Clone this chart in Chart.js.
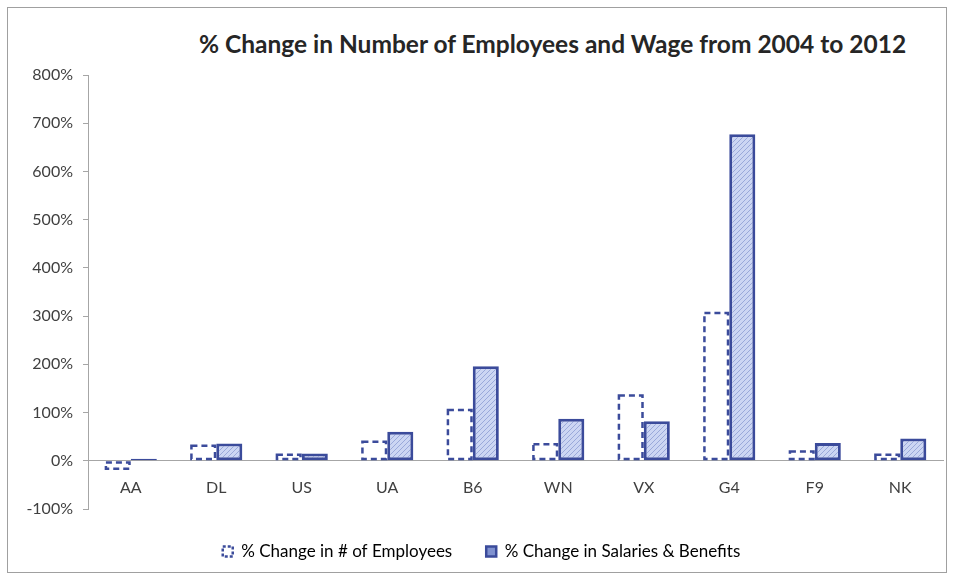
<!DOCTYPE html>
<html>
<head>
<meta charset="utf-8">
<script src="https://cdn.jsdelivr.net/npm/chart.js@4/dist/chart.umd.min.js"></script>
<style>
  body { margin: 0; background: #fff; }
  #wrap { position: relative; width: 953px; height: 577px; }
  #frame { position: absolute; left: 7px; top: 7px; width: 940px; height: 566px; border: 1px solid #a0a0a0; box-sizing: border-box; }
  #title { position: absolute; left: 170px; width: 765px; top: 29px; text-align: center;
           font: bold 24.5px Lato, sans-serif; color: #262626; }
  canvas { position: absolute; left: 0; top: 0; }
</style>
</head>
<body>
<div id="wrap">
  <div id="frame"></div>
  <div id="title">% Change in Number of Employees and Wage from 2004 to 2012</div>
  <canvas id="chart" width="953" height="577"></canvas>
</div>
<script>
const carriers = ['AA', 'DL', 'US', 'UA', 'B6', 'WN', 'VX', 'G4', 'F9', 'NK'];
const employeesChange = [-19, 34, 15, 42, 108, 37, 138, 309, 22, 15];
const salariesChange = [4, 36, 15, 60, 196, 87, 82, 677, 37, 46];
const yTicks = [-100, 0, 100, 200, 300, 400, 500, 600, 700, 800];

const navy = '#3b4b9b';
const textGray = '#404040';

// hatched light blue fill
function makeHatch() {
  const c = document.createElement('canvas');
  c.width = 5; c.height = 5;
  const g = c.getContext('2d');
  g.fillStyle = '#ccd6f3';
  g.fillRect(0, 0, 5, 5);
  g.strokeStyle = '#9aa9da';
  g.lineWidth = 1;
  g.beginPath();
  g.moveTo(0, 5); g.lineTo(5, 0);
  g.moveTo(-1, 1); g.lineTo(1, -1);
  g.moveTo(4, 6); g.lineTo(6, 4);
  g.stroke();
  return g.createPattern(c, 'repeat');
}

// bars of the first series only get a dashed outline, which BarElement can't do
const dashedOutline = {
  id: 'dashedOutline',
  afterDatasetsDraw(chart) {
    const ctx = chart.ctx;
    const meta = chart.getDatasetMeta(0);
    ctx.save();
    ctx.setLineDash([6, 4]);
    ctx.lineWidth = 2.5;
    ctx.strokeStyle = navy;
    meta.data.forEach(bar => {
      const p = bar.getProps(['x', 'y', 'base', 'width'], true);
      const top = Math.min(p.y, p.base);
      const h = Math.abs(p.base - p.y);
      ctx.strokeRect(p.x - p.width / 2 + 1.25, top + 1.25, p.width - 2.5, h - 2.5);
    });
    ctx.restore();
  }
};

const ctx = document.getElementById('chart').getContext('2d');

const chart = new Chart(ctx, {
  type: 'bar',
  data: {
    labels: carriers,
    datasets: [{
      label: '% Change in # of Employees',
      data: employeesChange,
      backgroundColor: 'rgba(0,0,0,0)',
      borderWidth: 0,
    }, {
      label: '% Change in Salaries & Benefits',
      data: salariesChange,
      backgroundColor: makeHatch(),
      borderColor: navy,
      borderWidth: 3,
      borderSkipped: false,
    }],
  },
  options: {
    responsive: false,
    animation: false,
    categoryPercentage: 0.61,
    barPercentage: 1.0,
    layout: {
      padding: { left: 20, right: 10, top: 75, bottom: 7 }
    },
    scales: {
      x: {
        position: { y: 0 },
        grid: { display: false },
        border: { display: true, color: '#a6a6a6', width: 1 },
        ticks: {
          color: textGray,
          padding: 9,
          font: { family: 'Lato', size: 16 }
        }
      },
      y: {
        min: -100,
        max: 800,
        afterFit: s => { s.width = 68; },
        afterBuildTicks: s => { s.ticks = yTicks.map(v => ({ value: v })); },
        grid: {
          drawOnChartArea: false,
          drawTicks: true,
          tickLength: 5,
          color: '#a6a6a6'
        },
        border: { display: true, color: '#a6a6a6', width: 1 },
        ticks: {
          color: textGray,
          padding: 10,
          font: { family: 'Lato', size: 16 },
          callback: v => v + '%'
        }
      }
    },
    plugins: {
      tooltip: { enabled: false },
      legend: {
        position: 'bottom',
        labels: {
          color: textGray,
          boxWidth: 10,
          boxHeight: 10,
          padding: 34,
          font: { family: 'Lato', size: 17 },
          generateLabels: ch => ch.data.datasets.map((ds, i) => ({
            text: ds.label,
            fillStyle: i === 0 ? '#ffffff' : '#7f91cf',
            strokeStyle: navy,
            lineWidth: 2.5,
            lineDash: i === 0 ? [3, 2] : [],
            datasetIndex: i,
            hidden: false
          }))
        }
      }
    }
  },
  plugins: [dashedOutline]
});
</script>
</body>
</html>
